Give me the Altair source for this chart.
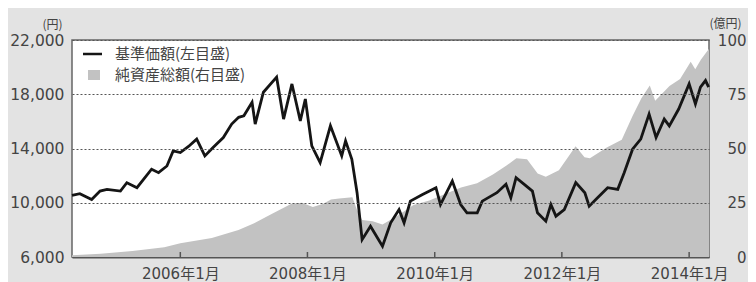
import altair as alt
import pandas as pd

# 基準価額 (left axis, 円)
line_dates = [
    "2004-04-19", "2004-06-03", "2004-08-10", "2004-09-27", "2004-11-06",
    "2005-01-22", "2005-02-28", "2005-04-27", "2005-07-20", "2005-08-29",
    "2005-10-16", "2005-11-21", "2006-01-01", "2006-02-17", "2006-04-05",
    "2006-05-22", "2006-07-08", "2006-09-05", "2006-10-23", "2006-12-02",
    "2007-01-01", "2007-02-17", "2007-03-07", "2007-04-23", "2007-07-08",
    "2007-08-17", "2007-10-04", "2007-11-21", "2007-12-20", "2008-01-26",
    "2008-03-14", "2008-05-12", "2008-07-16", "2008-08-07", "2008-09-12",
    "2008-10-12", "2008-11-10", "2008-12-28", "2009-03-07", "2009-04-23",
    "2009-06-10", "2009-07-09", "2009-08-14", "2009-10-23", "2010-01-08",
    "2010-02-03", "2010-04-12", "2010-05-30", "2010-07-05", "2010-09-02",
    "2010-10-01", "2010-12-24", "2011-02-14", "2011-03-14", "2011-04-13",
    "2011-05-30", "2011-07-16", "2011-08-14", "2011-10-01", "2011-10-30",
    "2011-11-28", "2012-01-15", "2012-03-21", "2012-05-12", "2012-06-06",
    "2012-07-24", "2012-09-20", "2012-11-17", "2012-12-24", "2013-02-10",
    "2013-03-29", "2013-05-16", "2013-06-25", "2013-08-11", "2013-09-09",
    "2013-11-02", "2014-01-01", "2014-02-06", "2014-03-07", "2014-04-05",
    "2014-04-23",
]
line_values = [
    10540, 10670, 10240, 10860, 10990,
    10860, 11480, 11110, 12470, 12220,
    12710, 13820, 13700, 14150, 14690,
    13450, 14070, 14810, 15800, 16300,
    16410, 17410, 15800, 18150, 19260,
    16170, 18760, 16040, 17650, 14190,
    12960, 15670, 13450, 14560, 13210,
    10740, 7280, 8270, 6790, 8520,
    9500, 8520, 10120, 10610, 11110,
    9870, 11600, 9870, 9260, 9260,
    10120, 10740, 11360, 10370, 11850,
    11360, 10860, 9260, 8640, 9870,
    9010, 9500, 11480, 10740, 9750,
    10370, 11110, 10990, 12220, 13950,
    14690, 16540, 14810, 16170, 15670,
    16910, 18760, 17280, 18520, 19010,
    18520,
]

# 純資産総額 (right axis, 億円)
area_dates = [
    "2004-04-19", "2004-10-01", "2005-04-01", "2005-10-01", "2006-01-01",
    "2006-07-01", "2006-12-01", "2007-03-01", "2007-06-01", "2007-08-01",
    "2007-10-01", "2007-12-01", "2008-02-01", "2008-04-01", "2008-05-15",
    "2008-07-01", "2008-09-15", "2008-10-10", "2008-11-10", "2009-01-10",
    "2009-03-07", "2009-06-01", "2009-09-01", "2009-12-01", "2010-03-01",
    "2010-06-01", "2010-09-01", "2010-12-01", "2011-02-15", "2011-04-15",
    "2011-06-15", "2011-08-15", "2011-10-01", "2011-12-15", "2012-03-20",
    "2012-05-10", "2012-06-10", "2012-09-15", "2012-12-10", "2013-02-10",
    "2013-04-01", "2013-05-20", "2013-06-20", "2013-09-10", "2013-11-10",
    "2014-01-10", "2014-02-05", "2014-03-10", "2014-04-25",
]
area_values = [
    0.8, 1.5, 2.8, 4.5, 6.3,
    8.8, 12.5, 15.5, 19.5, 22.0,
    24.5, 25.0, 23.0, 24.5, 26.5,
    27.0, 27.5, 22.0, 17.0, 16.5,
    15.0, 19.0, 24.0, 26.0, 29.0,
    32.0, 34.0, 38.0, 42.0, 45.5,
    45.0, 38.5, 37.0, 40.0, 51.0,
    46.0, 45.5, 50.5, 54.0, 65.0,
    73.0, 79.0, 72.0, 78.8, 82.0,
    90.0, 86.5, 91.0, 96.0,
]

tick_years = [2006, 2008, 2010, 2012, 2014]
legend_labels = ["基準価額(左目盛)", "純資産総額(右目盛)"]

x_domain = ["2004-04-19", "2014-04-25"]

line_df = pd.DataFrame({"date": line_dates, "nav": line_values})
area_df = pd.DataFrame({"date": area_dates, "aum": area_values})
tick_df = pd.DataFrame({"date": [f"{y}-01-01" for y in tick_years]})
one = pd.DataFrame({"k": [0]})

LABEL_FONT = "DejaVu Sans, Noto Sans CJK JP"
TEXT = "#444444"

x_enc = alt.X(
    "date:T",
    scale=alt.Scale(domain=x_domain),
    axis=alt.Axis(
        values=[alt.DateTime(year=y, month=1, date=1) for y in tick_years],
        labelExpr="year(datum.value) + '年1月'",
        title=None,
        grid=False,
        ticks=False,
        tickSize=0,
        labelPadding=9,
        labelFont=LABEL_FONT,
        labelFontSize=15,
        labelColor=TEXT,
        domainColor="#555555",
        domainWidth=2,
    ),
)

area = alt.Chart(area_df).mark_area(color="#c2c2c2", opacity=1).encode(
    x=x_enc,
    y=alt.Y(
        "aum:Q",
        scale=alt.Scale(domain=[0, 100], nice=False),
        axis=alt.Axis(
            orient="right",
            values=[0, 25, 50, 75, 100],
            grid=False,
            ticks=False,
            domain=False,
            labelAlign="right",
            labelPadding=37,
            labelFont=LABEL_FONT,
            labelFontSize=15,
            labelColor=TEXT,
            title="(億円)",
            titleAngle=0,
            titleX=16,
            titleY=-17,
            titleAlign="center",
            titleBaseline="middle",
            titleFont="Noto Sans CJK JP",
            titleFontSize=12,
            titleFontWeight="normal",
            titleColor=TEXT,
        ),
    ),
)

line = alt.Chart(line_df).mark_line(color="#151515", strokeWidth=2.8).encode(
    x=alt.X("date:T"),
    y=alt.Y(
        "nav:Q",
        scale=alt.Scale(domain=[6000, 22000], nice=False),
        axis=alt.Axis(
            orient="left",
            values=[6000, 10000, 14000, 18000, 22000],
            format=",d",
            grid=True,
            gridColor="#555555",
            gridDash=[2, 2],
            gridWidth=1,
            ticks=False,
            domain=False,
            zindex=1,
            labelPadding=8,
            labelFont=LABEL_FONT,
            labelFontSize=15.5,
            labelColor=TEXT,
            title="(円)",
            titleAngle=0,
            titleX=-20,
            titleY=-16,
            titleAlign="center",
            titleBaseline="middle",
            titleFont="Noto Sans CJK JP",
            titleFontSize=12,
            titleFontWeight="normal",
            titleColor=TEXT,
        ),
    ),
)

ticks = alt.Chart(tick_df).mark_rule(color="#555555", strokeWidth=1.5).encode(
    x="date:T", y=alt.value(212), y2=alt.value(217)
)

leg_line = alt.Chart(one).mark_rule(color="#151515", strokeWidth=2.5).encode(
    x=alt.value(11), x2=alt.value(30), y=alt.value(14)
)
leg_rect = alt.Chart(one).mark_rect(color="#c2c2c2").encode(
    x=alt.value(16), x2=alt.value(28), y=alt.value(30), y2=alt.value(40)
)
leg_text1 = alt.Chart(one).mark_text(
    text=legend_labels[0], align="left", baseline="middle",
    font="Noto Sans CJK JP", fontSize=15, color=TEXT,
).encode(x=alt.value(43), y=alt.value(14))
leg_text2 = alt.Chart(one).mark_text(
    text=legend_labels[1], align="left", baseline="middle",
    font="Noto Sans CJK JP", fontSize=15, color=TEXT,
).encode(x=alt.value(43), y=alt.value(35))

chart = (
    alt.layer(area, line, ticks, leg_line, leg_rect, leg_text1, leg_text2)
    .resolve_scale(y="independent")
    .properties(
        width=637,
        height=217,
        background="#e3e3e3",
        autosize=alt.AutoSizeParams(type="none"),
        padding={"left": 64, "top": 32, "right": 39, "bottom": 25},
    )
    .configure_view(fill="white", stroke="#666666", strokeWidth=1.5)
)

chart.save("out.html", embed_options={"renderer": "svg", "actions": False})
